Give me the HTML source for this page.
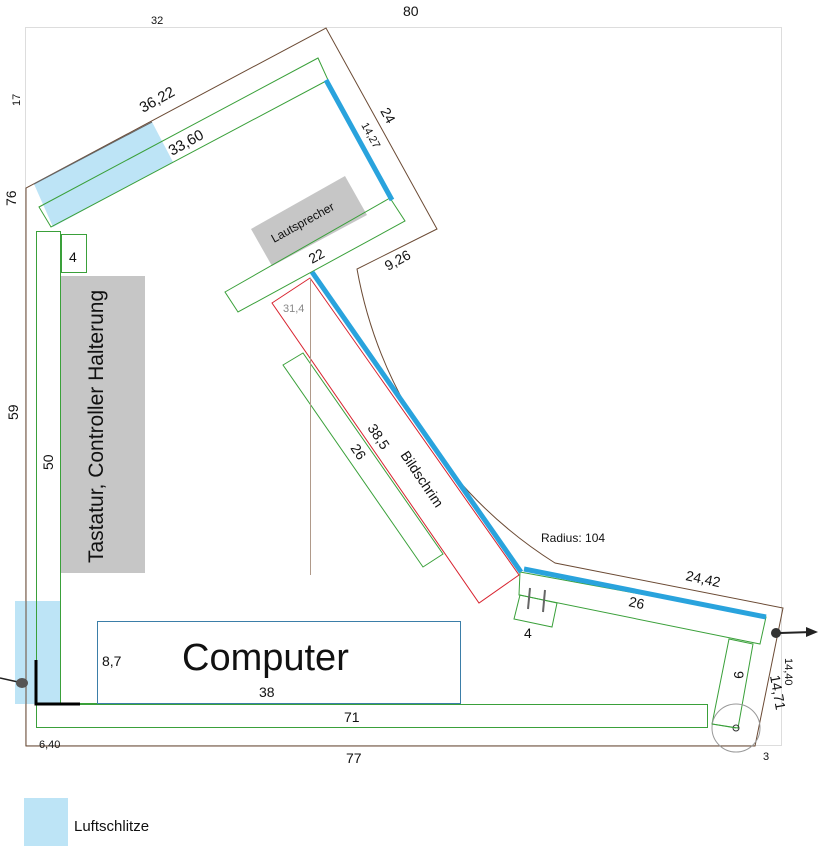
<!DOCTYPE html>
<html><head><meta charset="utf-8"><style>
html,body{margin:0;padding:0;background:#fff;}
svg{display:block;}
text{font-family:"Liberation Sans",sans-serif;fill:#111;}
</style></head><body>
<svg width="830" height="856" viewBox="0 0 830 856" xmlns="http://www.w3.org/2000/svg">
<rect x="25.5" y="27.5" width="756" height="718" fill="none" stroke="#ddd" stroke-width="1"/>
<polygon points="34,184 152,122 173,162 53,227" fill="#bde4f6"/>
<rect x="15" y="601" width="45" height="103" fill="#bde4f6"/>
<path d="M26,746 L26,188 L326,28 L437,229 L357,269 A440 440 0 0 0 555,563 L783,608 L755,746 Z" fill="none" stroke="#6b4a34" stroke-width="1"/>
<line x1="34" y1="184" x2="152" y2="122" stroke="#666" stroke-width="1"/>
<rect x="61" y="276" width="84" height="297" fill="#c6c6c6"/>
<polygon points="251,229 345,176 367,215 272,266" fill="#c6c6c6"/>
<g fill="none" stroke="#3aa03a" stroke-width="1">
<polygon points="39,207 318,58 328,80 51,227"/>
<polygon points="225,292 390,198 405,221 238,312"/>
<rect x="36.5" y="231.5" width="24" height="472"/>
<rect x="61.5" y="234.5" width="25" height="38"/>
<rect x="36.5" y="704.5" width="671" height="23"/>
<line x1="61" y1="703.5" x2="97" y2="703.5"/>
<polygon points="283,365 303,353 443,554 423,567"/>
<polygon points="520,572 766,617 760,644 519,595"/>
<polygon points="520,595 557,603 552,627 514,619"/>
<polygon points="729,639 753,644 738,728 712,724"/>
</g>
<polygon points="272,303 310,278 519,575 479,603" fill="none" stroke="#d8232f" stroke-width="1"/>
<line x1="310.5" y1="278" x2="310.5" y2="575" stroke="#b09a8a" stroke-width="1"/>
<g stroke="#29a3dd" stroke-width="5" stroke-linecap="butt">
<line x1="326" y1="80" x2="392" y2="200"/>
<line x1="312" y1="272" x2="521" y2="572"/>
<line x1="524" y1="569" x2="766" y2="617"/>
</g>
<line x1="530" y1="588" x2="528" y2="609" stroke="#666" stroke-width="2"/>
<line x1="545" y1="590" x2="543" y2="612" stroke="#666" stroke-width="2"/>
<rect x="97.5" y="621.5" width="363" height="82" fill="none" stroke="#3b7ea8" stroke-width="1"/>
<path d="M36,660 L36,704 L80,704" fill="none" stroke="#000" stroke-width="3"/>
<circle cx="736" cy="728" r="24" fill="none" stroke="#999" stroke-width="1"/>
<circle cx="736" cy="728" r="3" fill="none" stroke="#333" stroke-width="1"/>
<line x1="712" y1="724" x2="736" y2="728" stroke="#3aa03a"/>
<path d="M0,678 L18,682" stroke="#222" stroke-width="1.5"/>
<ellipse cx="22" cy="683" rx="6" ry="5" fill="#555"/>
<ellipse cx="776" cy="633" rx="5" ry="5" fill="#333"/>
<path d="M780,633 L812,632" stroke="#222" stroke-width="2"/>
<path d="M806,627 L818,632 L806,637 Z" fill="#222"/>
<rect x="24" y="798" width="44" height="48" fill="#bde4f6"/>
<text x="74" y="831" font-size="15">Luftschlitze</text>
<text x="151" y="24" font-size="11">32</text>
<text x="403" y="16" font-size="14">80</text>
<text x="346" y="763" font-size="14">77</text>
<text x="39" y="748" font-size="11">6,40</text>
<text x="763" y="760" font-size="11">3</text>
<text transform="translate(20,106) rotate(-90)" font-size="11">17</text>
<text transform="translate(16,206) rotate(-90)" font-size="14">76</text>
<text transform="translate(18,420) rotate(-90)" font-size="14">59</text>
<text transform="translate(53,470) rotate(-90)" font-size="14">50</text>
<text transform="translate(103,563) rotate(-90)" font-size="21">Tastatur, Controller Halterung</text>
<text x="69" y="262" font-size="14">4</text>
<text transform="translate(143,113) rotate(-29)" font-size="15">36,22</text>
<text transform="translate(172,156) rotate(-29)" font-size="15">33,60</text>
<text transform="translate(380,111) rotate(61)" font-size="14">24</text>
<text transform="translate(361,125) rotate(61)" font-size="11">14,27</text>
<text transform="translate(274,243) rotate(-29)" font-size="12">Lautsprecher</text>
<text transform="translate(312,264) rotate(-29)" font-size="14">22</text>
<text transform="translate(388,271) rotate(-29)" font-size="14">9,26</text>
<text x="283" y="312" font-size="11" style="fill:#888">31,4</text>
<text transform="translate(367,428) rotate(56)" font-size="14">38,5</text>
<text transform="translate(350,448) rotate(56)" font-size="14">26</text>
<text transform="translate(400,455) rotate(56)" font-size="14">Bildschrim</text>
<text x="541" y="542" font-size="12">Radius: 104</text>
<text transform="translate(685,580) rotate(12)" font-size="14">24,42</text>
<text transform="translate(628,606) rotate(12)" font-size="14">26</text>
<text x="524" y="638" font-size="14">4</text>
<text transform="translate(734,671) rotate(90)" font-size="14">9</text>
<text transform="translate(785,658) rotate(90)" font-size="11">14,40</text>
<text transform="translate(770,676) rotate(80)" font-size="14">14,71</text>
<text x="344" y="722" font-size="14">71</text>
<text x="102" y="666" font-size="14">8,7</text>
<text x="182" y="670" font-size="38">Computer</text>
<text x="259" y="697" font-size="14">38</text>
</svg>
</body></html>
